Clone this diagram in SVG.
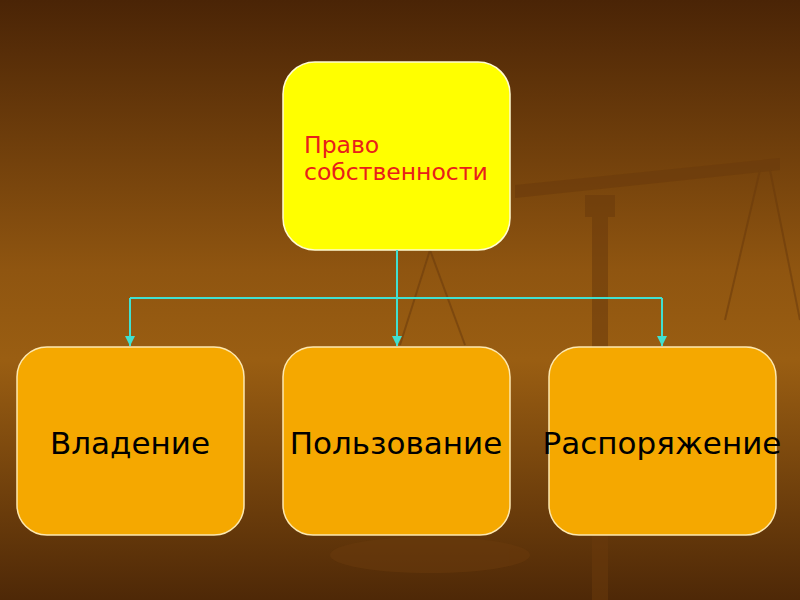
<svg xmlns="http://www.w3.org/2000/svg" width="800" height="600" viewBox="0 0 800 600">
<defs>
<linearGradient id="bg" x1="0" y1="0" x2="0" y2="1">
<stop offset="0" stop-color="#4a2406"/>
<stop offset="0.45" stop-color="#8f5510"/>
<stop offset="0.6" stop-color="#9a5e12"/>
<stop offset="1" stop-color="#4e2807"/>
</linearGradient>
<marker id="ar" markerWidth="10" markerHeight="10" refX="10" refY="5" orient="auto" markerUnits="userSpaceOnUse">
<path d="M0,0 L10,5 L0,10 Z" fill="#40e0d0"/>
</marker>
<style>
.low{fill:#f5a800;stroke:#fde8b0;stroke-width:1.5}
.lt{font-family:"DejaVu Sans","Noto Sans",sans-serif;font-size:31px;fill:#000;text-anchor:middle}
.c{stroke:#40e0d0;stroke-width:2;fill:none}
</style>
</defs>
<rect width="800" height="600" fill="url(#bg)"/>
<g id="scales" fill="#6a3a0c" opacity="0.55">
<polygon points="515,185 780,158 780,170 515,198"/>
<rect x="585" y="195" width="30" height="22"/>
<rect x="592" y="215" width="16" height="385"/>
<path d="M760,170 L725,320 M770,170 L800,320 M430,250 L400,345 M430,250 L465,345" stroke="#6a3a0c" stroke-width="2" fill="none"/>
<ellipse cx="430" cy="555" rx="100" ry="18"/>
</g>
<g id="top">
<rect x="283" y="62" width="227" height="188" rx="32" fill="#ffff00" stroke="#fffbd0" stroke-width="1.5"/>
<text x="304" y="153" font-family="DejaVu Sans,sans-serif" font-size="23.5" fill="#e8201a">Право</text>
<text x="304" y="180" font-family="DejaVu Sans,sans-serif" font-size="23.5" fill="#e8201a">собственности</text>
</g>
<g id="n1"><rect class="low" x="17" y="347" width="227" height="188" rx="30"/><text class="lt" x="130" y="454">Владение</text></g>
<g id="n2"><rect class="low" x="283" y="347" width="227" height="188" rx="30"/><text class="lt" x="396" y="454">Пользование</text></g>
<g id="n3"><rect class="low" x="549" y="347" width="227" height="188" rx="30"/><text class="lt" x="662" y="454">Распоряжение</text></g>
<g id="connectors">
<line class="c" x1="397" y1="250" x2="397" y2="346" marker-end="url(#ar)"/>
<line class="c" x1="130" y1="298" x2="662" y2="298"/>
<line class="c" x1="130" y1="298" x2="130" y2="346" marker-end="url(#ar)"/>
<line class="c" x1="662" y1="298" x2="662" y2="346" marker-end="url(#ar)"/>
</g>
</svg>
